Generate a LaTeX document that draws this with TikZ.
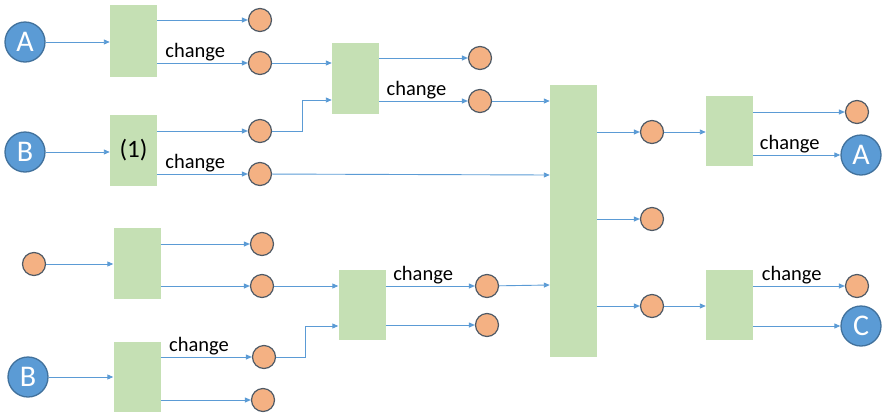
\documentclass[tikz,border=0pt]{standalone}
\usepackage{fontspec}
\setmainfont{Carlito}
\usetikzlibrary{arrows.meta}
\definecolor{boxgreen}{HTML}{C5E0B4}
\definecolor{orfill}{HTML}{F4B183}
\definecolor{orline}{HTML}{4F5A66}
\definecolor{blfill}{HTML}{5B9BD5}
\definecolor{blline}{HTML}{41719C}
\definecolor{arr}{HTML}{5B9BD5}
\tikzset{
  gbox/.style={fill=boxgreen, draw=none, minimum width=47pt, inner sep=0pt},
  ocirc/.style={circle, fill=orfill, draw=orline, line width=1.2pt, minimum size=23pt, inner sep=0pt},
  bcirc/.style={circle, fill=blfill, draw=blline, line width=1.3pt, minimum size=40pt, inner sep=0pt, text=white, font=\fontsize{30}{32}\selectfont},
  flow/.style={draw=arr, line width=0.9pt, -{Triangle[length=6pt,width=5pt]}},
  chg/.style={font=\fontsize{20.5}{22}\selectfont, anchor=south, inner sep=1.5pt}
}
\begin{document}
\begin{tikzpicture}[x=1pt,y=-1pt]
\useasboundingbox (0,0) rectangle (887,416);
% boxes
\node[gbox, minimum height=72pt] (b1) at (133.5,41) {};
\node[gbox, minimum height=71pt, font=\fontsize{25}{27}\selectfont] (b2) at (133.5,150.5) {(1)};
\node[gbox, minimum height=71pt] (b3) at (355.5,78.5) {};
\node[gbox, minimum height=70pt] (b4) at (362,305) {};
\node[gbox, minimum height=272pt] (big) at (573.5,221) {};
\node[gbox, minimum height=70pt] (b5) at (729.5,131) {};
\node[gbox, minimum height=70pt] (b6) at (729.5,305) {};
\node[gbox, minimum height=71pt] (b7) at (137,263.5) {};
\node[gbox, minimum height=70pt] (b8) at (137,377) {};
% orange circles
\node[ocirc] (o1) at (260,20) {};
\node[ocirc] (o2) at (260,63) {};
\node[ocirc] (o3) at (260,131) {};
\node[ocirc] (o4) at (260,174) {};
\node[ocirc] (o5) at (480,58) {};
\node[ocirc] (o6) at (480,101) {};
\node[ocirc] (o7) at (652,132) {};
\node[ocirc] (o8) at (652,219) {};
\node[ocirc] (o9) at (652,306) {};
\node[ocirc] (o10) at (857,112) {};
\node[ocirc] (o11) at (857,286) {};
\node[ocirc] (o12) at (34,264) {};
\node[ocirc] (o13) at (262,244) {};
\node[ocirc] (o14) at (262,286) {};
\node[ocirc] (o15) at (264,357) {};
\node[ocirc] (o16) at (263,400) {};
\node[ocirc] (o17) at (487,286) {};
\node[ocirc] (o18) at (487,325) {};
% blue circles
\node[bcirc] (A1) at (25,42) {A};
\node[bcirc] (B1) at (25,152) {B};
\node[bcirc] (B2) at (28,377) {B};
\node[bcirc] (A2) at (861,155) {A};
\node[bcirc] (C) at (861,326) {C};
% connectors
\draw[flow] (A1) -- (A1 -| b1.west);
\draw[flow] (b1.east |- o1) -- (o1);
\draw[flow] (b1.east |- o2) -- node[chg, pos=0.42] {change} (o2);
\draw[flow] (B1) -- (B1 -| b2.west);
\draw[flow] (b2.east |- o3) -- (o3);
\draw[flow] (b2.east |- o4) -- node[chg, pos=0.42] {change} (o4);
\draw[flow] (o2) -- (o2 -| b3.west);
\draw[flow] (o3) -- (302,131) |- ([yshift=-21.5pt]b3.west);
\draw[flow] (b3.east |- o5) -- (o5);
\draw[flow] (b3.east |- o6) -- node[chg, pos=0.42] {change} (o6);
\draw[flow] (o6) -- (o6 -| big.west);
\draw[flow] (o4) -- ([yshift=-1pt]o4 -| big.west);
\draw[flow] (o12) -- (o12 -| b7.west);
\draw[flow] (b7.east |- o13) -- (o13);
\draw[flow] (b7.east |- o14) -- (o14);
\draw[flow] (o14) -- (o14 -| b4.west);
\draw[flow] (B2) -- (B2 -| b8.west);
\draw[flow] (b8.east |- o15) -- node[chg, pos=0.42] {change} (o15);
\draw[flow] (b8.east |- o16) -- (o16);
\draw[flow] (o15) -- (305,357) |- ([yshift=-21pt]b4.west);
\draw[flow] (b4.east |- o17) -- node[chg, pos=0.42] {change} (o17);
\draw[flow] (b4.east |- o18) -- (o18);
\draw[flow] (o17) -- ([yshift=1pt]o17 -| big.west);
\draw[flow] (big.east |- o7) -- (o7);
\draw[flow] (big.east |- o8) -- (o8);
\draw[flow] (big.east |- o9) -- (o9);
\draw[flow] (o7) -- (o7 -| b5.west);
\draw[flow] (b5.east |- o10) -- (o10);
\draw[flow] (b5.east |- A2) -- node[chg, pos=0.42] {change} (A2);
\draw[flow] (o9) -- (o9 -| b6.west);
\draw[flow] (b6.east |- o11) -- node[chg, pos=0.42] {change} (o11);
\draw[flow] (b6.east |- C) -- (C);
\end{tikzpicture}
\end{document}
